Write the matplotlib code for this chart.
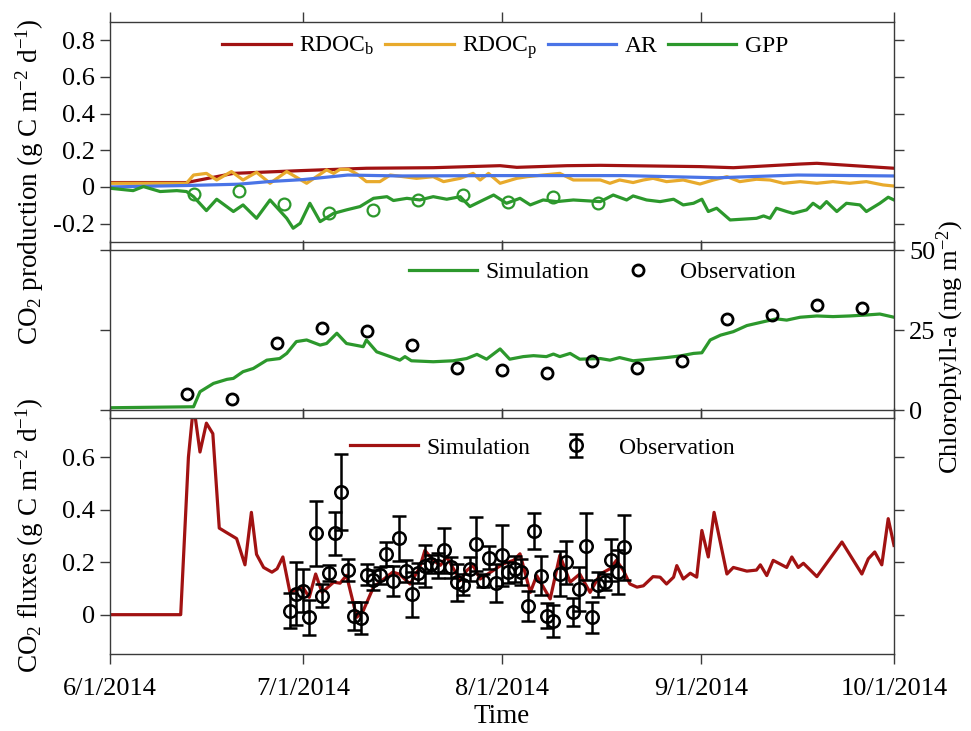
import numpy as np
import matplotlib
matplotlib.use('Agg')
import matplotlib.pyplot as plt

plt.rcParams['font.family'] = ['Liberation Serif', 'DejaVu Serif']
plt.rcParams['mathtext.fontset'] = 'custom'
plt.rcParams['mathtext.rm'] = 'Liberation Serif'
plt.rcParams['mathtext.it'] = 'Liberation Serif:italic'

# days since 6/1/2014
month_days = [0, 30, 61, 92, 122]
month_labels = ['6/1/2014', '7/1/2014', '8/1/2014', '9/1/2014', '10/1/2014']

# panel 1: CO2 production
rdocb_day = [0, 11.9, 19.2, 29.6, 39.9, 50.3, 60.7, 63.3, 71.1, 76.3, 91.8, 97, 107.4, 110, 122]
rdocb = [0.024, 0.024, 0.074, 0.089, 0.102, 0.105, 0.116, 0.107, 0.116, 0.118, 0.111, 0.105, 0.125, 0.129, 0.102]

rdocp_day = [0, 11.9, 13, 15, 16.6, 18.9, 20.7, 22.8, 24.9, 27.5,
             30.6, 33.7, 34.8, 35.8, 37.1, 38.4, 39.9, 42, 43.6, 47.7,
             50.3, 51.9, 54.5, 56.5, 57.6, 58.9, 60.7, 63.3, 64.9, 67.4,
             70, 72.1, 76.3, 77.8, 79.3, 81.4, 83, 84.5, 86.6, 89.2,
             91.8, 93.9, 96, 98, 100.6, 102.7, 104.8, 107.4, 110, 112.5,
             115.1, 117.7, 120.3, 122]
rdocp = [0.02, 0.02, 0.065, 0.074, 0.038, 0.084, 0.038, 0.08, 0.02, 0.084,
         0.02, 0.093, 0.074, 0.096, 0.096, 0.071, 0.029, 0.029, 0.065, 0.047,
         0.056, 0.029, 0.047, 0.074, 0.038, 0.074, 0.02, 0.047, 0.056, 0.065,
         0.074, 0.038, 0.038, 0.02, 0.038, 0.024, 0.038, 0.047, 0.029, 0.038,
         0.016, 0.038, 0.056, 0.029, 0.042, 0.038, 0.02, 0.029, 0.02, 0.029,
         0.02, 0.029, 0.011, 0.005]

ar_day = [0, 12, 20, 25, 30, 37, 45, 60, 80, 94.5, 107, 122]
ar = [0.0, 0.008, 0.015, 0.03, 0.04, 0.065, 0.06, 0.062, 0.062, 0.05, 0.065, 0.06]

gpp_day = [0, 3.6, 5.2, 7.8, 10.4, 11.9, 13, 15, 16.6, 19.2,
           20.7, 22.8, 24.9, 27.5, 28.5, 29.6, 31.1, 32.7, 34.8, 36.8,
           38.9, 41, 43.1, 44.1, 46.2, 48.2, 50.3, 52.4, 54.5, 56,
           58.1, 59.7, 61.7, 63.8, 65.4, 67.4, 69.5, 72.1, 76.3, 78.3,
           80.4, 81.4, 83.5, 85.6, 87.7, 89.2, 90.8, 92.1, 93.1, 94.4,
           96.5, 100.6, 101.7, 102.7, 103.7, 105.3, 106.3, 108.4, 109.4, 110.5,
           111.5, 113.1, 114.6, 116.7, 117.7, 119.8, 121.1, 122]
gpp = [-0.007, -0.02, 0.002, -0.025, -0.02, -0.025, -0.053, -0.129, -0.067, -0.134,
       -0.098, -0.171, -0.071, -0.171, -0.225, -0.198, -0.089, -0.189, -0.144, -0.125,
       -0.107, -0.062, -0.053, -0.074, -0.062, -0.071, -0.053, -0.067, -0.053, -0.107,
       -0.071, -0.044, -0.089, -0.062, -0.098, -0.071, -0.08, -0.071, -0.08, -0.044,
       -0.071, -0.049, -0.071, -0.08, -0.067, -0.098, -0.089, -0.067, -0.134, -0.116,
       -0.18, -0.171, -0.158, -0.171, -0.116, -0.134, -0.144, -0.125, -0.089, -0.116,
       -0.08, -0.134, -0.089, -0.098, -0.134, -0.089, -0.056, -0.071]

gpp_obs_day = [13, 20, 27, 34, 41, 48, 55, 62, 69, 76]
gpp_obs = [-0.04, -0.022, -0.093, -0.143, -0.125, -0.071, -0.042, -0.083, -0.053, -0.089]

# panel 2: chlorophyll-a
chl_day = [0, 13, 14, 16.1, 18.2, 19.2, 20.7, 22.3, 24.4, 26.4,
           27.5, 29, 30.6, 32.7, 33.7, 35.3, 36.8, 38.9, 39.4, 39.9,
           41.5, 43.6, 45.1, 45.9, 46.9, 50.3, 53.4, 55.5, 57.1, 58.6,
           60.7, 62.2, 64.3, 65.9, 67.9, 69, 70, 71.6, 73.1, 76.3,
           77.8, 79.3, 81.4, 84, 86.6, 88.7, 90.8, 92.1, 93.4, 95,
           97, 99.1, 101.7, 103.7, 105.3, 107.4, 110, 112.5, 115.1, 117.7,
           119.8, 122]
chl = [0.73, 1.04, 5.73, 8.33, 9.6, 9.9, 12.0, 13.0, 15.6, 16.1,
       17.7, 21.4, 21.9, 20.3, 20.8, 24.0, 20.8, 20.0, 19.8, 21.9,
       18.2, 16.7, 15.6, 16.7, 15.4, 15.1, 15.4, 16.1, 17.4, 15.9,
       19.1, 15.9, 16.7, 17.0, 16.7, 17.5, 16.7, 17.7, 15.9, 16.1,
       15.6, 16.4, 15.4, 15.9, 16.4, 16.9, 17.7, 17.9, 21.9, 23.4,
       24.5, 26.4, 27.6, 28.5, 28.1, 29.0, 29.4, 29.2, 29.4, 29.7,
       30.0, 29.0]
chl_obs_day = [12, 19, 26, 33, 40, 47, 54, 61, 68, 75, 82, 89, 96, 103, 110, 117]
chl_obs = [5.0, 3.4, 21.0, 25.7, 24.7, 20.4, 13.0, 12.5, 11.7, 15.4, 13.1, 15.4, 28.3, 29.8, 32.8, 31.9]

# panel 3: CO2 fluxes
flux_day = [0, 11, 12.2, 13, 14, 15, 16, 17, 18, 19.7,
            21, 22, 22.8, 23.9, 25.2, 26, 26.9, 28, 30, 31,
            32, 33, 34.8, 35.8, 36.8, 38.4, 39.4, 41, 43, 44,
            45, 46.7, 48.2, 49, 50.3, 51.4, 52.4, 54.5, 55.5, 56.5,
            57.6, 59.6, 61.2, 62.8, 63.8, 65.4, 66.4, 68.5, 70, 71.6,
            73.1, 74.7, 76.3, 77.8, 78.8, 79.9, 80.9, 82, 83, 84.5,
            85.6, 86.6, 87.7, 88.2, 89.2, 90.3, 91.3, 92.1, 93.1, 94,
            96, 97, 99.1, 100.6, 101.2, 102.2, 103.2, 105.3, 106.1, 107.1,
            107.9, 110, 113.9, 117, 118, 119, 120.1, 121.1, 122]
flux = [0, 0, 0.60, 0.80, 0.62, 0.73, 0.69, 0.33, 0.315, 0.29,
        0.19, 0.39, 0.23, 0.18, 0.162, 0.175, 0.22, 0.085, 0.105, 0.066,
        0.155, 0.085, 0.124, 0.12, 0.15, -0.01, 0.015, 0.105, 0.143, 0.162,
        0.155, 0.117, 0.18, 0.245, 0.207, 0.188, 0.22, 0.13, 0.168, 0.188,
        0.136, 0.168, 0.194, 0.207, 0.232, 0.085, 0.149, 0.06, 0.226, 0.124,
        0.155, 0.085, 0.155, 0.175, 0.207, 0.168, 0.117, 0.105, 0.11, 0.145,
        0.143, 0.117, 0.143, 0.187, 0.136, 0.158, 0.143, 0.321, 0.22, 0.39,
        0.155, 0.18, 0.166, 0.17, 0.19, 0.149, 0.207, 0.18, 0.22, 0.18,
        0.196, 0.145, 0.277, 0.155, 0.213, 0.239, 0.19, 0.366, 0.264]

flux_obs_day = list(range(28, 81))
flux_obs = [0.015, 0.08, 0.092, -0.01, 0.31, 0.073, 0.16, 0.31, 0.468, 0.172,
            -0.004, -0.012, 0.152, 0.132, 0.15, 0.232, 0.13, 0.292, 0.167, 0.078,
            0.16, 0.187, 0.192, 0.187, 0.245, 0.18, 0.124, 0.115, 0.175, 0.27,
            0.13, 0.217, 0.12, 0.226, 0.162, 0.175, 0.162, 0.034, 0.319, 0.149,
            -0.004, -0.025, 0.156, 0.2, 0.009, 0.098, 0.26, -0.01, 0.115, 0.124,
            0.209, 0.162, 0.257]
flux_err = [0.066, 0.12, 0.083, 0.067, 0.123, 0.045, 0.03, 0.083, 0.145, 0.042,
            0.054, 0.06, 0.04, 0.038, 0.033, 0.045, 0.057, 0.086, 0.041, 0.085,
            0.038, 0.08, 0.035, 0.047, 0.086, 0.041, 0.071, 0.04, 0.045, 0.102,
            0.026, 0.043, 0.073, 0.115, 0.04, 0.05, 0.05, 0.057, 0.069, 0.073,
            0.048, 0.06, 0.086, 0.082, 0.054, 0.084, 0.126, 0.06, 0.048, 0.03,
            0.08, 0.083, 0.124]

red = '#A11212'
orange = '#E8AA2C'
blue = '#4A74E6'
green = '#2C982C'
spine_c = '#3a3a3a'
lw = 2.3
fs = 19
lab_fs = 19.5

fig = plt.figure(figsize=(9.71, 7.31), dpi=100)
ax1 = fig.add_axes([0.1133, 0.669, 0.8074, 0.301])
ax2 = fig.add_axes([0.1133, 0.439, 0.8074, 0.219])
ax3 = fig.add_axes([0.1133, 0.1053, 0.8074, 0.323])


def style(ax):
    ax.set_xlim(0, 122)
    ax.set_xticks(month_days)
    ax.tick_params(direction='out', length=7, width=1, color=spine_c, labelsize=fs,
                   top=True, right=True, pad=4)
    for s in ax.spines.values():
        s.set_color(spine_c)
        s.set_linewidth(1)


# panel 1
ax1.plot(rdocb_day, rdocb, color=red, lw=lw, label=r'RDOC$_\mathrm{b}$')
ax1.plot(rdocp_day, rdocp, color=orange, lw=lw, label=r'RDOC$_\mathrm{p}$')
ax1.plot(ar_day, ar, color=blue, lw=lw, label='AR')
ax1.plot(gpp_day, gpp, color=green, lw=lw, label='GPP')
ax1.plot(gpp_obs_day, gpp_obs, 'o', mfc='none', mec=green, ms=8.5, mew=1.6)
style(ax1)
ax1.set_ylim(-0.3, 0.9)
ax1.set_yticks([-0.2, 0, 0.2, 0.4, 0.6, 0.8])
ax1.set_yticklabels(['-0.2', '0', '0.2', '0.4', '0.6', '0.8'])
ax1.set_xticklabels([])
ax1.legend(loc='center', bbox_to_anchor=(0.504, 0.882), ncol=4, frameon=False,
           fontsize=17, handlelength=2.9, handletextpad=0.35, columnspacing=0.45)

# panel 2
ax2.plot(chl_day, chl, color=green, lw=lw, label='Simulation')
ax2.plot(chl_obs_day, chl_obs, 'o', mfc='none', mec='black', ms=8, mew=2, label='Observation')
style(ax2)
ax2.set_ylim(0, 50)
ax2.set_yticks([0, 25, 50])
ax2.tick_params(labelleft=False, labelright=True)
ax2.set_xticklabels([])
ax2.legend(loc='center', bbox_to_anchor=(0.628, 0.8625), ncol=2, frameon=False,
           fontsize=17, handlelength=2.9, handletextpad=0.35, columnspacing=0.6)

# panel 3
ax3.plot(flux_day, flux, color=red, lw=lw, label='Simulation')
ax3.errorbar(flux_obs_day, flux_obs, yerr=flux_err, fmt='o', mfc='none', mec='black',
             ms=9, mew=1.8, ecolor='black', elinewidth=1.8, capsize=5, capthick=1.8,
             label='Observation')
style(ax3)
ax3.set_ylim(-0.15, 0.75)
ax3.set_yticks([0, 0.2, 0.4, 0.6])
ax3.set_yticklabels(['0', '0.2', '0.4', '0.6'])
ax3.set_xticklabels(month_labels)
ax3.tick_params(axis='x', pad=10)
ax3.set_xlabel('Time', fontsize=lab_fs, labelpad=3)
ax3.legend(loc='center', bbox_to_anchor=(0.551, 0.873), ncol=2, frameon=False,
           fontsize=17, handlelength=2.9, handletextpad=0.35, columnspacing=0.5)

fig.text(0.031, 1 - 182 / 731, r'CO$_2$ production (g C m$^{-2}$ d$^{-1}$)',
         rotation=90, ha='center', va='center', fontsize=lab_fs)
fig.text(0.031, 1 - 535 / 731, r'CO$_2$ fluxes (g C m$^{-2}$ d$^{-1}$)',
         rotation=90, ha='center', va='center', fontsize=lab_fs)
fig.text(0.979, 1 - 347 / 731, r'Chlorophyll-a (mg m$^{-2}$)',
         rotation=90, ha='center', va='center', fontsize=19)

fig.savefig('out.png', dpi=100)
